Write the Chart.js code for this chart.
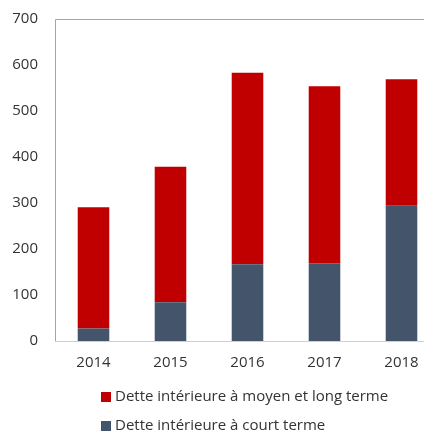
<!DOCTYPE html>
<html>
<head>
<meta charset="utf-8">
<script src="https://cdn.jsdelivr.net/npm/chart.js@4/dist/chart.umd.min.js"></script>
<style>
    html, body { margin: 0; padding: 0; background: #fff; overflow: hidden; }
    #wrap { width: 440px; height: 431px; }
</style>
</head>
<body>
<div id="wrap"><canvas id="debt-chart" width="440" height="431"></canvas></div>
<script>
// Domestic debt by maturity
const years = ['2014', '2015', '2016', '2017', '2018'];
const shortTerm = [27, 84, 167, 169, 294];
const longTerm = [264, 295, 416, 385, 275];
const yTicks = [0, 100, 200, 300, 400, 500, 600, 700];

const labelLong = 'Dette intérieure à moyen et long terme';
const labelShort = 'Dette intérieure à court terme';

const RED = '#C00000';
const SLATE = '#44546A';
const TEXT = '#333333';
const FONT = "'Open Sans', 'Noto Sans', sans-serif";

// Plot frame: grey top/left, lighter bottom axis
const framePlugin = {
    id: 'frame',
    beforeDatasetsDraw(chart) {
        const { ctx, chartArea: a } = chart;
        ctx.save();
        ctx.lineWidth = 1;
        ctx.strokeStyle = '#a6a6a6';
        ctx.beginPath();
        ctx.moveTo(a.left + 0.5, a.bottom);
        ctx.lineTo(a.left + 0.5, a.top + 0.5);
        ctx.lineTo(a.right, a.top + 0.5);
        ctx.stroke();
        ctx.strokeStyle = '#d0d0d0';
        ctx.beginPath();
        ctx.moveTo(a.left, a.bottom + 0.5);
        ctx.lineTo(a.right, a.bottom + 0.5);
        ctx.stroke();
        ctx.restore();
    }
};

// Left-aligned stacked legend like the original
const legendPlugin = {
    id: 'stackLegend',
    afterDraw(chart) {
        const { ctx } = chart;
        const items = [chart.data.datasets[1], chart.data.datasets[0]];
        ctx.save();
        ctx.font = '15px ' + FONT;
        ctx.textBaseline = 'middle';
        items.forEach((ds, i) => {
            const y = 397 + i * 29;
            ctx.fillStyle = ds.backgroundColor;
            ctx.fillRect(101, y - 5, 10, 10);
            ctx.fillStyle = TEXT;
            ctx.fillText(ds.label, 115, y);
        });
        ctx.restore();
    }
};

new Chart(document.getElementById('debt-chart'), {
    type: 'bar',
    data: {
        labels: years,
        datasets: [
            { label: labelShort, data: shortTerm, backgroundColor: SLATE },
            { label: labelLong, data: longTerm, backgroundColor: RED }
        ]
    },
    options: {
        responsive: false,
        animation: false,
        layout: { padding: { top: 19, right: 0, left: 0, bottom: 0 } },
        datasets: {
            bar: { barPercentage: 0.41, categoryPercentage: 1 }
        },
        plugins: {
            legend: { display: false },
            tooltip: { enabled: false }
        },
        scales: {
            x: {
                stacked: true,
                grid: { display: false, drawTicks: false },
                border: { display: false },
                ticks: {
                    color: TEXT,
                    padding: 13,
                    maxRotation: 0,
                    font: { family: FONT, size: 15 }
                },
                afterFit: function(axis) { axis.height = 90; }
            },
            y: {
                stacked: true,
                min: 0,
                max: 700,
                grid: { display: false, drawTicks: false },
                border: { display: false },
                afterBuildTicks: function(axis) {
                    axis.ticks = yTicks.map(v => ({ value: v }));
                },
                ticks: {
                    color: TEXT,
                    padding: 17,
                    font: { family: FONT, size: 15 }
                },
                afterFit: function(axis) {
                    axis.width = 55;
                    axis.paddingTop = 0;
                    axis.paddingBottom = 0;
                }
            }
        }
    },
    plugins: [framePlugin, legendPlugin]
});
</script>
</body>
</html>
